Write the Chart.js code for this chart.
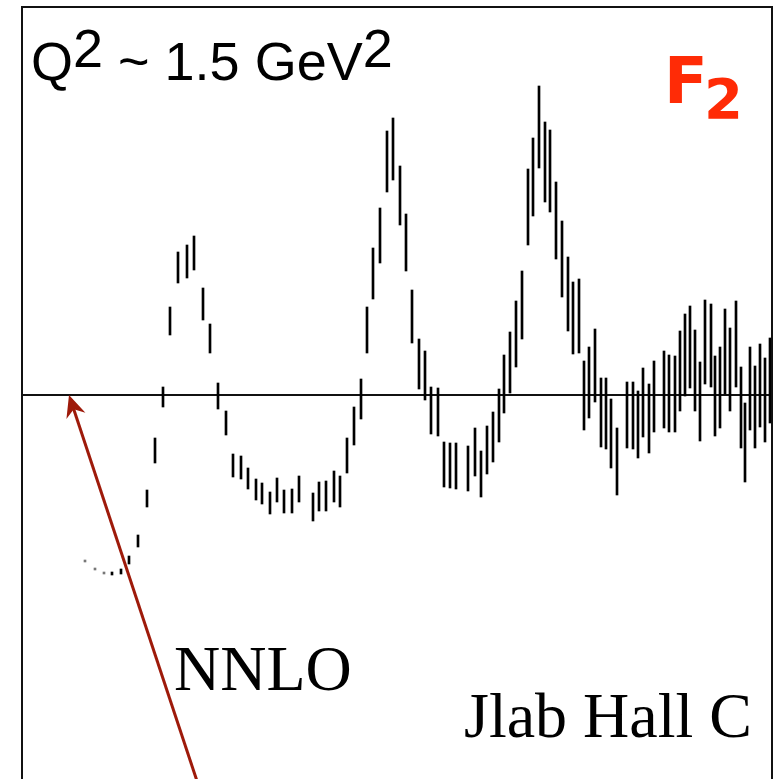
<!DOCTYPE html>
<html>
<head>
<meta charset="utf-8">
<script src="https://cdn.jsdelivr.net/npm/chart.js@4/dist/chart.umd.min.js"></script>
<style>
  html, body { margin: 0; padding: 0; background: #fff; }
  canvas { display: block; }
</style>
</head>
<body>
<canvas id="c" width="776" height="779"></canvas>
<script>
// F2 residuals vs W^2 (GeV^2), Jlab Hall C, Q^2 ~ 1.5 GeV^2
const wSq = [
  1.152, 1.192, 1.228, 1.260, 1.296, 1.328, 1.364, 1.400, 1.432, 1.464,
  1.492, 1.524, 1.560, 1.588, 1.624, 1.652, 1.684, 1.716, 1.744, 1.776,
  1.804, 1.836, 1.860, 1.892, 1.920, 1.948, 1.980, 2.008, 2.064, 2.088,
  2.116, 2.148, 2.172, 2.200, 2.228, 2.256, 2.280, 2.304, 2.332, 2.360,
  2.384, 2.412, 2.436, 2.460, 2.488, 2.512, 2.536, 2.564, 2.588, 2.612,
  2.636, 2.684, 2.712, 2.736, 2.760, 2.784, 2.808, 2.828, 2.852, 2.876,
  2.900, 2.924, 2.944, 2.968, 2.992, 3.012, 3.036, 3.060, 3.084, 3.104,
  3.128, 3.148, 3.168, 3.192, 3.216, 3.236, 3.256, 3.280, 3.320, 3.344,
  3.364, 3.384, 3.408, 3.428, 3.468, 3.488, 3.512, 3.532, 3.552, 3.572,
  3.592, 3.612, 3.632, 3.656, 3.672, 3.692, 3.712, 3.732, 3.756, 3.776,
  3.792, 3.812, 3.832, 3.852, 3.872, 3.892
];
// lower / upper end of each error bar
const yLow = [
  -0.167, -0.175, -0.179, -0.180, -0.179, -0.169, -0.152, -0.112, -0.068, -0.012,
  0.060, 0.112, 0.117, 0.125, 0.075, 0.042, -0.014, -0.040, -0.082, -0.084,
  -0.094, -0.105, -0.109, -0.119, -0.107, -0.118, -0.118, -0.107, -0.126, -0.116,
  -0.116, -0.107, -0.112, -0.078, -0.050, -0.024, 0.042, 0.096, 0.132, 0.203,
  0.215, 0.170, 0.124, 0.052, 0.006, -0.005, -0.039, -0.041, -0.092, -0.093,
  -0.094, -0.096, -0.081, -0.102, -0.079, -0.067, -0.047, -0.018, 0.002, 0.028,
  0.056, 0.150, 0.179, 0.227, 0.193, 0.183, 0.136, 0.098, 0.064, 0.041,
  0.042, -0.035, -0.023, -0.007, -0.052, -0.054, -0.073, -0.100, -0.053, -0.054,
  -0.063, -0.042, -0.058, -0.037, -0.033, -0.037, -0.037, -0.016, -0.001, 0.007,
  -0.016, -0.046, 0.011, 0.008, -0.041, -0.033, 0.001, -0.016, 0.008, -0.053,
  -0.087, -0.035, -0.053, -0.032, -0.047, -0.028
];
const yHigh = [
  -0.165, -0.173, -0.177, -0.177, -0.174, -0.161, -0.140, -0.095, -0.043, 0.008,
  0.088, 0.143, 0.150, 0.159, 0.107, 0.071, 0.012, -0.016, -0.059, -0.061,
  -0.073, -0.084, -0.088, -0.097, -0.083, -0.095, -0.094, -0.081, -0.098, -0.087,
  -0.086, -0.076, -0.081, -0.043, -0.012, 0.016, 0.088, 0.147, 0.187, 0.264,
  0.277, 0.229, 0.181, 0.105, 0.056, 0.044, 0.008, 0.007, -0.047, -0.048,
  -0.048, -0.051, -0.033, -0.056, -0.031, -0.017, 0.006, 0.040, 0.063, 0.094,
  0.124, 0.226, 0.257, 0.309, 0.273, 0.265, 0.213, 0.174, 0.138, 0.113,
  0.116, 0.034, 0.048, 0.066, 0.017, 0.017, -0.004, -0.033, 0.013, 0.013,
  0.004, 0.027, 0.011, 0.034, 0.044, 0.040, 0.039, 0.064, 0.081, 0.089,
  0.065, 0.033, 0.095, 0.091, 0.039, 0.048, 0.086, 0.067, 0.094, 0.028,
  -0.008, 0.048, 0.029, 0.051, 0.037, 0.057
];
const xRange = [0.9, 3.9];
const yRange = [-0.384, 0.388];
const arrowTip = [1.088, 0.0];
const arrowTail = [1.6, -0.384];

const bars = wSq.map((x, i) => ({ x: x, y: [yLow[i], yHigh[i]] }));

// frame, arrow and labels
const overlay = {
  id: "overlay",
  afterDatasetsDraw(chart) {
    const { ctx, chartArea: a, scales } = chart;
    ctx.save();
    ctx.strokeStyle = "#111";
    ctx.lineWidth = 2;
    ctx.beginPath();
    ctx.moveTo(a.left, a.bottom + 2);
    ctx.lineTo(a.left, a.top);
    ctx.lineTo(a.right, a.top);
    ctx.lineTo(a.right, a.bottom + 2);
    ctx.stroke();

    // arrow
    const tx = scales.x.getPixelForValue(arrowTip[0]);
    const ty = scales.y.getPixelForValue(arrowTip[1]);
    const fx = scales.x.getPixelForValue(arrowTail[0]);
    const fy = scales.y.getPixelForValue(arrowTail[1]) + 2;
    const ang = Math.atan2(ty - fy, tx - fx);
    const c = Math.cos(ang), s = Math.sin(ang);
    ctx.strokeStyle = "#9e1a0a";
    ctx.fillStyle = "#9e1a0a";
    ctx.lineWidth = 3;
    ctx.beginPath();
    ctx.moveTo(fx, fy);
    ctx.lineTo(tx - 14 * c, ty - 14 * s);
    ctx.stroke();
    ctx.beginPath();
    ctx.moveTo(tx, ty);
    ctx.lineTo(tx - 22 * c + 10 * s, ty - 22 * s - 10 * c);
    ctx.lineTo(tx - 15 * c, ty - 15 * s);
    ctx.lineTo(tx - 22 * c - 10 * s, ty - 22 * s + 10 * c);
    ctx.closePath();
    ctx.fill();

    // Q^2 label
    ctx.fillStyle = "#000";
    ctx.textBaseline = "alphabetic";
    ctx.font = '54px "Liberation Sans", Arial, sans-serif';
    let x = 31;
    const parts = [["Q", 0], ["2", -13], [" ~ 1.5 GeV", 0], ["2", -13]];
    parts.forEach(([t, dy]) => {
      ctx.fillText(t, x, 80 + dy);
      x += ctx.measureText(t).width;
    });

    // F2
    ctx.fillStyle = "#ff2b06";
    ctx.font = 'bold 64px "DejaVu Sans", sans-serif';
    ctx.fillText("F", 664, 103);
    ctx.font = 'bold 56px "DejaVu Sans", sans-serif';
    ctx.fillText("2", 704, 118);

    // NNLO / Jlab
    ctx.fillStyle = "#000";
    ctx.font = '64px "Liberation Serif", "Times New Roman", serif';
    ctx.fillText("NNLO", 174, 690);
    ctx.fillText("Jlab Hall C", 464, 737);
    ctx.restore();
  },
};

new Chart(document.getElementById("c"), {
  type: "bar",
  data: {
    datasets: [
      {
        type: "line",
        data: [
          { x: xRange[0], y: 0 },
          { x: xRange[1], y: 0 },
        ],
        borderColor: "#111",
        borderWidth: 2,
        pointRadius: 0,
        order: 2,
      },
      {
        data: bars,
        backgroundColor: (c) => {
          const r = c.raw;
          return r && r.y[1] - r.y[0] < 0.003 ? "#777" : "#000";
        },
        borderWidth: 0,
        barThickness: 2,
        grouped: false,
        order: 1,
      },
    ],
  },
  options: {
    responsive: false,
    devicePixelRatio: 1,
    animation: false,
    layout: { padding: { left: 22, top: 7, right: 4, bottom: 0 } },
    scales: {
      x: { type: "linear", min: xRange[0], max: xRange[1], offset: false, display: false },
      y: { type: "linear", min: yRange[0], max: yRange[1], display: false },
    },
    plugins: { legend: { display: false }, tooltip: { enabled: false } },
  },
  plugins: [overlay],
});
</script>
</body>
</html>
